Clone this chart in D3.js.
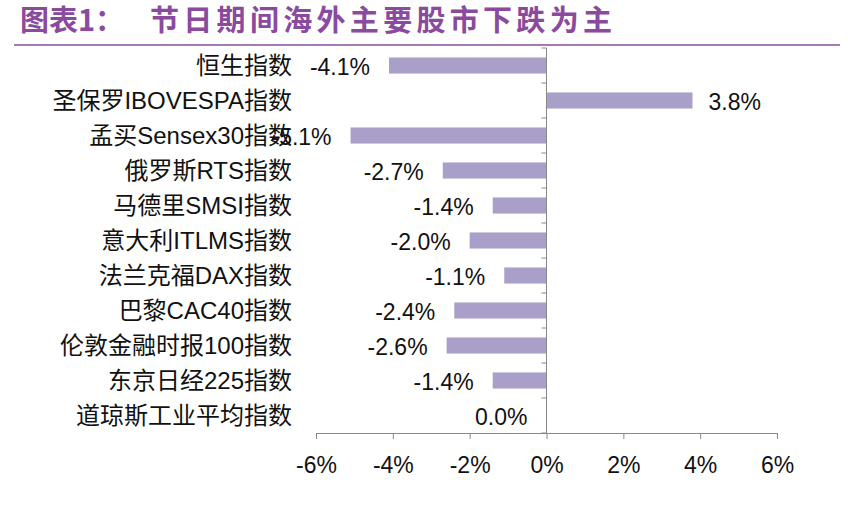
<!DOCTYPE html>
<html><head><meta charset="utf-8">
<script src="https://cdn.jsdelivr.net/npm/d3@7"></script>
<style>body{margin:0;background:#fff;font-family:"Noto Sans CJK SC",Arial,sans-serif}</style>
</head><body>
<svg id="chart" width="848" height="508"></svg>
<script>
// index names and index change (%)
const names = ["恒生指数","圣保罗IBOVESPA指数","孟买Sensex30指数","俄罗斯RTS指数","马德里SMSI指数","意大利ITLMS指数","法兰克福DAX指数","巴黎CAC40指数","伦敦金融时报100指数","东京日经225指数","道琼斯工业平均指数"];
const values = [-4.1, 3.8, -5.1, -2.7, -1.4, -2.0, -1.1, -2.4, -2.6, -1.4, 0.0];
const ticks = [-6, -4, -2, 0, 2, 4, 6];

const svg = d3.select("#chart");
const purple = "#8a4a9e";

svg.append("text").attr("x", 20).attr("y", 31).attr("fill", purple)
  .attr("font-size", 29).attr("font-weight", "bold").text("图表1：");
svg.append("text").attr("x", 150).attr("y", 31).attr("fill", purple)
  .attr("font-size", 29).attr("font-weight", "bold").attr("textLength", 462).text("节日期间海外主要股市下跌为主");
svg.append("line").attr("x1", 14).attr("x2", 840).attr("y1", 45).attr("y2", 45)
  .attr("stroke", purple).attr("stroke-width", 1.5);

const x = d3.scaleLinear().domain([-6, 6]).range([316, 777]);
const y = d3.scaleBand().domain(names).range([48, 433]).paddingInner(0.54).paddingOuter(0.27);
const row = d3.scaleBand().domain(names).range([48, 433]);

const g = svg.append("g");
g.selectAll("rect").data(names).join("rect")
  .attr("x", (d, i) => x(Math.min(0, values[i])))
  .attr("width", (d, i) => Math.abs(x(values[i]) - x(0)))
  .attr("y", d => y(d)).attr("height", y.bandwidth())
  .attr("fill", "#a99fc8");

g.selectAll(".cat").data(names).join("text")
  .attr("x", 292).attr("y", d => y(d) + y.bandwidth() / 2)
  .attr("dy", "0.35em").attr("text-anchor", "end")
  .attr("font-size", 24).attr("fill", "#111").attr("font-family", "Liberation Sans, Noto Sans CJK SC").text(d => d);

g.selectAll(".val").data(names).join("text")
  .attr("x", (d, i) => values[i] > 0 ? x(values[i]) + 16 : x(values[i]) - 19)
  .attr("y", d => y(d) + y.bandwidth() / 2 + 1)
  .attr("dy", "0.35em").attr("text-anchor", (d, i) => values[i] > 0 ? "start" : "end")
  .attr("font-size", 23).attr("fill", "#111").attr("font-family", "Liberation Sans, Arial")
  .text((d, i) => values[i].toFixed(1) + "%");

// vertical axis at zero
g.append("line").attr("x1", x(0)).attr("x2", x(0)).attr("y1", 48).attr("y2", 433).attr("stroke", "#888");
g.selectAll(".yt").data(names.concat(["end"])).join("line")
  .attr("x1", x(0) - 5).attr("x2", x(0))
  .attr("y1", (d, i) => 48 + i * row.step()).attr("y2", (d, i) => 48 + i * row.step())
  .attr("stroke", "#888");

const xa = svg.append("g").attr("transform", "translate(0,433)")
  .call(d3.axisBottom(x).tickValues(ticks).tickSize(6).tickFormat(d => d + "%"));
xa.select(".domain").attr("stroke", "#888");
xa.selectAll(".tick line").attr("stroke", "#888");
xa.selectAll(".tick text").attr("font-size", 23).attr("fill", "#111")
  .attr("font-family", "Liberation Sans, Arial").attr("dy", "1.35em");
</script>
</body></html>
